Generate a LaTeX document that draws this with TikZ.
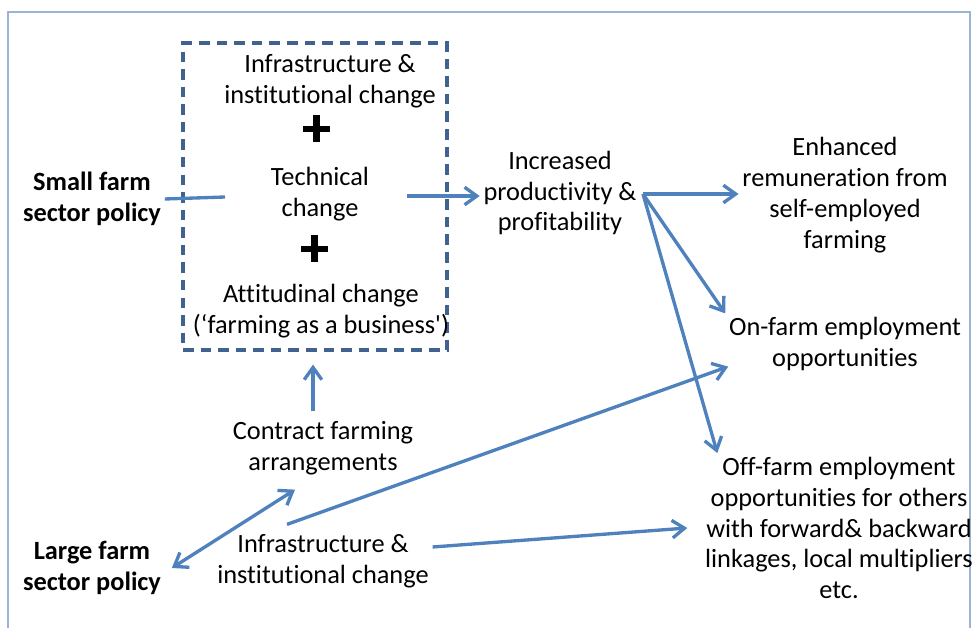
\documentclass[tikz,border=0pt]{standalone}
\usepackage{fontspec}
\setmainfont[Ligatures={NoCommon,TeX}]{Carlito}
\usepackage{xcolor}
\usepackage{tikz}
\usetikzlibrary{arrows.meta}

\definecolor{arrowblue}{HTML}{4F81BD}
\definecolor{boxblue}{HTML}{41618F}
\definecolor{framegray}{HTML}{9DB3D6}

\tikzset{
  txt/.style={align=center, inner sep=2pt, font=\fontsize{15}{17.6}\selectfont},
  policy/.style={txt, font=\fontsize{15}{17.6}\selectfont\bfseries},
  barb/.tip={Straight Barb[length=7pt,width=10pt]},
  arr/.style={arrowblue, line width=1.9pt, -barb},
  plain/.style={arrowblue, line width=1.9pt},
}

\begin{document}
\begin{tikzpicture}[x=0.02cm, y=-0.02cm]
    \useasboundingbox (0,0) rectangle (977,628);

    % Frame
    \draw[framegray, line width=0.6pt] (8,628) -- (8,12) -- (970,12) -- (970,628);

    % Dashed box
    \node[draw=boxblue, line width=1.8pt, dash pattern=on 6pt off 4pt,
          minimum width=5.28cm, minimum height=6.14cm] (box) at (315,196.5) {};

    % Inside the box
    \node[txt] (infra1) at (330,81) {Infrastructure \&\\institutional change};
    \node[txt] (tech) at (320,194) {Technical\\change};
    \node[txt] (att) at (321,311) {Attitudinal change\\(‘farming as a business\textquotesingle)};
    \draw[line width=3.8pt] (303,129) -- (330,129) (316.5,115.5) -- (316.5,142.5);
    \draw[line width=3.8pt] (301,249) -- (328,249) (314.5,235.5) -- (314.5,262.5);

    % Policies
    \node[policy] (small) at (92,199) {Small farm\\sector policy};
    \node[policy] (large) at (92,568) {Large farm\\sector policy};

    % Middle and bottom
    \node[txt] (incr) at (560,193) {Increased\\productivity \&\\profitability};
    \node[txt] (contract) at (323,448) {Contract farming\\arrangements};
    \node[txt] (infra2) at (323,561) {Infrastructure \&\\institutional change};

    % Outcomes
    \node[txt] (enh) at (845,195) {Enhanced\\remuneration from\\self-employed\\farming};
    \node[txt] (onfarm) at (845,344) {On-farm employment\\opportunities};
    \node[txt] (offfarm) at (839,528) {Off-farm employment\\opportunities for others\\with forward\& backward\\linkages, local multipliers\\etc.};

    % Points on the box
    \coordinate (smallin) at (225,197);
    \coordinate (techout) at (407,196);
    \coordinate (fork) at (643,194);

    % Connectors
    \draw[plain] (small.east) -- (smallin);
    \draw[arr] (techout) -- (techout -| incr.west);
    \draw[arr] (fork) -- (fork -| enh.west);
    \draw[arr] (fork) -- (onfarm.north west);
    \draw[arr] (fork) -- ([shift={(16,0)}]offfarm.north west);
    \draw[arr] ([shift={(-10,-6)}]contract.north) -- ([shift={(-2,13)}]box.south);
    \draw[arr, barb-barb] ([shift={(7,0)}]large.east) -- ([shift={(-28,11)}]contract.south);
    \draw[arr] ([shift={(-36,-6)}]infra2.north) -- ([shift={(3,-8)}]onfarm.south west);
    \draw[arr] ([shift={(0,-14)}]infra2.east) -- ([shift={(-14,0)}]offfarm.west);
\end{tikzpicture}
\end{document}
